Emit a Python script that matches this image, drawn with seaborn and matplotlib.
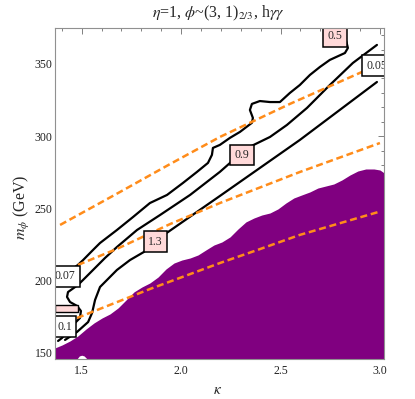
import numpy as np
import pandas as pd
import matplotlib
matplotlib.use("Agg")
import matplotlib.pyplot as plt
from matplotlib.patches import Rectangle
import seaborn as sns

# ---- data (kappa, m_phi in GeV) ----
# orange dashed contours
k_005 = [1.391, 1.693, 1.944, 2.195, 2.547, 2.899, 3.000]
m_005 = [238.4, 261.3, 280.6, 299.4, 322.3, 343.8, 350.0]
k_007 = [1.481, 1.677, 1.944, 2.195, 2.597, 3.000]
m_007 = [210.7, 221.8, 239.0, 253.6, 275.1, 295.2]
k_010 = [1.476, 1.843, 2.195, 2.397, 2.597, 3.000]
m_010 = [173.9, 194.0, 212.0, 221.7, 231.5, 247.7]

# black contours
k_05 = [2.830, 2.839, 2.824, 2.748, 2.698, 2.648, 2.597, 2.547, 2.497, 2.447, 2.396,
        2.356, 2.346, 2.361, 2.356, 2.296, 2.246, 2.195, 2.160, 2.155, 2.135, 2.080,
        2.009, 1.929, 1.843, 1.758, 1.677, 1.592, 1.557, 1.507, 1.481, 1.431, 1.366]
m_05 = [366.0, 361.1, 357.6, 352.8, 347.9, 342.4, 335.4, 329.9, 323.6, 323.6, 324.3,
        322.3, 318.1, 312.6, 309.2, 302.9, 298.8, 293.9, 291.8, 287.0, 281.4, 275.2,
        267.5, 259.2, 253.6, 243.9, 234.9, 225.9, 221.1, 214.1, 210.7, 205.8, 200.3]
k_09 = [2.985, 2.864, 2.748, 2.633, 2.532, 2.447, 2.307, 2.246, 2.195, 2.045, 1.894,
        1.778, 1.677, 1.617, 1.567, 1.517, 1.481, 1.431, 1.426, 1.441, 1.476, 1.496,
        1.491, 1.441, 1.401, 1.381]
m_09 = [363.2, 350.7, 335.4, 319.5, 307.7, 299.4, 290.0, 281.4, 275.2, 259.2, 245.3,
        234.9, 223.1, 215.5, 208.6, 201.7, 196.8, 191.9, 188.5, 185.0, 182.3, 178.8,
        173.9, 167.0, 160.1, 158.0]
k_13 = [2.985, 2.597, 2.195, 1.934, 1.871, 1.813, 1.743, 1.677, 1.592, 1.567, 1.552,
        1.532, 1.476, 1.416]
m_13 = [337.5, 297.3, 258.5, 233.5, 228.0, 219.7, 214.1, 207.2, 195.4, 186.4, 177.4,
        171.1, 164.2, 158.7]

# excluded (purple) region, upper boundary
k_excl = [1.364, 1.401, 1.441, 1.481, 1.522, 1.562, 1.602, 1.642, 1.683, 1.723, 1.763,
          1.803, 1.843, 1.884, 1.924, 1.964, 2.004, 2.045, 2.085, 2.125, 2.165, 2.205,
          2.246, 2.286, 2.326, 2.366, 2.406, 2.447, 2.487, 2.527, 2.567, 2.607, 2.648,
          2.688, 2.728, 2.768, 2.809, 2.849, 2.889, 2.929, 2.970, 3.000, 3.022]
m_excl = [153.1, 155.2, 158.0, 161.5, 166.3, 170.5, 173.9, 176.7, 180.9, 186.4, 192.0,
          195.4, 198.2, 202.3, 207.9, 212.0, 214.1, 215.5, 217.6, 221.1, 224.5, 226.6,
          230.1, 235.6, 240.5, 243.2, 245.3, 246.7, 249.5, 253.6, 257.1, 259.2, 261.3,
          264.0, 265.4, 266.8, 269.6, 273.0, 275.8, 277.2, 277.2, 276.5, 274.4]
# small allowed pocket at the bottom edge
k_pocket = [1.476, 1.488, 1.500, 1.512, 1.527]
m_pocket = [145.5, 147.6, 148.1, 147.6, 145.5]

# contour labels
lab_text = ["0.5", "0.9", "1.3", "0.05", "0.07", "0.1"]
lab_k = [2.776, 2.307, 1.871, 2.985, 1.415, 1.414]
lab_m = [369.1, 286.9, 226.6, 348.6, 203.0, 167.8]
lab_pink = [True, True, True, False, False, False]
# visible sliver of a label hidden behind the "0.1" label (kappa0, m0, width, height)
hidden_lab = (1.364, 178.1, 0.117, 4.8)

xlim = (1.364, 3.022)
ylim = (145.5, 374.7)

# ---- plot ----
sns.set_theme(style="white")
plt.rcParams['font.family'] = ['Liberation Serif', 'DejaVu Serif']
plt.rcParams['mathtext.fontset'] = 'stix'

fig = plt.figure(figsize=(4.15, 3.99), dpi=100)
ax = fig.add_axes([0.1318, 0.1003, 0.7942, 0.8287])

for kk, mm in [(k_05, m_05), (k_09, m_09), (k_13, m_13)]:
    df = pd.DataFrame({'k': kk, 'm': mm})
    sns.lineplot(data=df, x='k', y='m', sort=False, estimator=None, ax=ax,
                 color='black', lw=1.6, zorder=3)

ax.fill_between(k_excl, m_excl, ylim[0], color='#800080', lw=0, zorder=3.5)
ax.fill_between(k_pocket, m_pocket, ylim[0], color='white', lw=0, zorder=3.6)

for kk, mm in [(k_005, m_005), (k_007, m_007), (k_010, m_010)]:
    df = pd.DataFrame({'k': kk, 'm': mm})
    sns.lineplot(data=df, x='k', y='m', sort=False, estimator=None, ax=ax,
                 color='#FF8C1A', lw=1.8, linestyle=(0, (2.8, 1.5)), zorder=4)

ax.add_patch(Rectangle(hidden_lab[:2], hidden_lab[2], hidden_lab[3], fc='#FFD9D9',
                       ec='black', lw=1.0, zorder=5, clip_on=True))
for t, kx, my, p in zip(lab_text, lab_k, lab_m, lab_pink):
    ax.text(kx, my, t, fontsize=8.5, ha='center', va='center', zorder=6, clip_on=True,
            bbox=dict(boxstyle='square,pad=0.38', fc='#FFD9D9' if p else 'white',
                      ec='black', lw=1.1))

ax.set_xlim(*xlim)
ax.set_ylim(*ylim)
ax.set_xticks([1.5, 2.0, 2.5, 3.0])
ax.set_xticklabels(["1.5", "2.0", "2.5", "3.0"])
ax.set_xticks(np.arange(1.4, 3.01, 0.1), minor=True)
ax.set_yticks([150, 200, 250, 300, 350])
ax.set_yticks(np.arange(150, 371, 10), minor=True)
ax.tick_params(which='both', direction='in', top=True, right=True, color='#808080',
               width=0.7, labelsize=8.5, labelcolor='#222222')
ax.tick_params(which='major', length=4.5)
ax.tick_params(which='minor', length=2.5)
ax.tick_params(axis='x', pad=4)
ax.tick_params(axis='y', pad=1.5)
for s in ax.spines.values():
    s.set_color('#909090')
    s.set_linewidth(0.8)
    s.set_zorder(7)
ax.set_xlabel("")
ax.set_ylabel("")

fig.text(218 / 415, 1 - 390 / 399, r"$\kappa$", fontsize=11, ha='center', va='center')
fig.text(22 / 415, 1 - 207 / 399, r"$m_{\phi}$ (GeV)", fontsize=11.5, rotation=90,
         ha='center', va='center')
fig.text(218 / 415, 1 - 13 / 399,
         r"$\eta$=1, $\phi$~(3, 1)$_{2/3}$, h$\gamma\gamma$",
         fontsize=11.5, ha='center', va='center')

fig.savefig("out.png", dpi=100)
